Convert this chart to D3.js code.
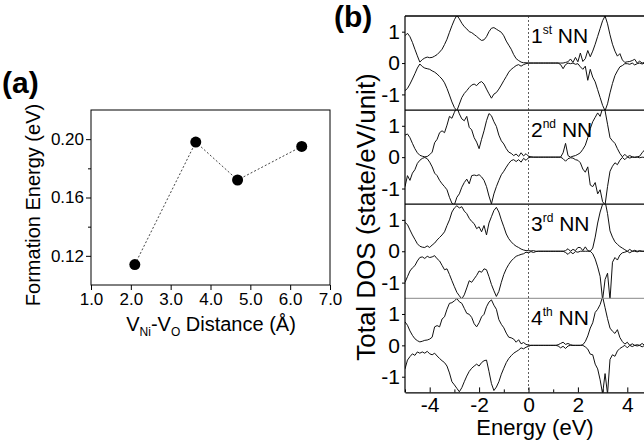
<!DOCTYPE html>
<html lang="en">
<head>
<meta charset="UTF-8">
<title>Formation energy and total DOS</title>
<script src="https://d3js.org/d3.v7.min.js"></script>
<style>
  body { margin: 0; background: #fff; }
  svg { display: block; font-family: "Liberation Sans", Arial, sans-serif; }
</style>
</head>
<body>
<svg width="644" height="440"></svg>
<script>
// ---- panel (a): formation energy vs vacancy distance
var distance = [2.1, 3.63, 4.68, 6.29];
var formationEnergy = [0.114, 0.198, 0.172, 0.195];
var distTicks = [1, 2, 3, 4, 5, 6, 7];
var feTicks = [0.12, 0.16, 0.20];
var feMinorTicks = [0.14, 0.18];

// ---- panel (b): total DOS, spin up (+) and spin down (-)
var energy = [-5, -4.9, -4.8, -4.7, -4.6, -4.5, -4.4, -4.3, -4.2, -4.1,
  -4, -3.9, -3.8, -3.7, -3.6, -3.5, -3.4, -3.3, -3.2, -3.1,
  -3, -2.9, -2.8, -2.7, -2.6, -2.5, -2.4, -2.3, -2.2, -2.1,
  -2, -1.9, -1.8, -1.7, -1.6, -1.5, -1.4, -1.3, -1.2, -1.1,
  -1, -0.9, -0.8, -0.7, -0.6, -0.5, -0.4, -0.3, -0.2, -0.1,
  0, 0.1, 0.2, 0.3, 0.4, 0.5, 0.6, 0.7, 0.8, 0.9,
  1, 1.1, 1.2, 1.3, 1.4, 1.5, 1.6, 1.7, 1.8, 1.9,
  2, 2.1, 2.2, 2.3, 2.4, 2.5, 2.6, 2.7, 2.8, 2.9,
  3, 3.1, 3.2, 3.3, 3.4, 3.5, 3.6, 3.7, 3.8, 3.9,
  4, 4.1, 4.2, 4.3, 4.4, 4.5, 4.6, 4.7, 4.8];

var dos1Up = [0.87, 0.95, 0.84, 0.66, 0.44, 0.23, 0.03, 0.11, 0.16, 0.19,
  0.17, 0.18, 0.22, 0.27, 0.35, 0.44, 0.59, 0.76, 0.98, 1.19,
  1.38, 1.52, 1.41, 1.27, 1.16, 1.09, 1.0, 0.97, 0.91, 0.85,
  0.78, 0.72, 0.74, 0.84, 1.0, 1.11, 1.13, 1.08, 1.03, 0.98,
  0.87, 0.7, 0.57, 0.44, 0.27, 0.14, 0.08, 0.03, 0.01, 0.01,
  0, 0, 0, 0, 0, 0, 0, 0, 0, 0,
  0, 0, 0, 0, 0, 0.02, 0.04, 0.13, 0.02, 0.18,
  0.04, 0.32, 0.05, 0.14, 0.4, 0.2, 0.38, 0.6, 0.85, 1.1,
  1.35, 1.5, 1.25, 0.9, 0.6, 0.38, 0.22, 0.3, 0.1, 0.02,
  0.04, 0.05, 0.08, 0.12, 0, 0.06, 0, 0.02, 0.02];
var dos1Dn = [-0.88, -0.81, -0.67, -0.51, -0.34, -0.16, -0.03, -0.11, -0.16, -0.18,
  -0.2, -0.25, -0.29, -0.35, -0.43, -0.51, -0.63, -0.81, -1.02, -1.24,
  -1.42, -1.52, -1.31, -1.1, -0.97, -0.88, -0.78, -0.7, -0.67, -0.72,
  -0.63, -0.59, -0.67, -0.83, -0.98, -1.12, -0.99, -0.94, -0.83, -0.7,
  -0.56, -0.43, -0.29, -0.2, -0.14, -0.08, -0.05, -0.1, -0.05, -0.02,
  0, 0, 0, 0, 0, 0, 0, 0, 0, 0,
  0, 0, 0, -0.05, -0.18, -0.05, 0, -0.02, 0, -0.04,
  -0.02, -0.12, -0.2, -0.1, -0.55, -0.2, -0.45, -0.6, -0.85, -1.1,
  -1.35, -1.52, -1.3, -0.95, -0.65, -0.4, -0.25, -0.12, -0.08, -0.02,
  -0.02, -0.04, 0, -0.06, -0.02, 0, -0.03, 0, 0];

var dos2Up = [0.7, 0.74, 0.62, 0.44, 0.27, 0.14, 0.06, 0.03, 0.01, 0.02,
  0.08, 0.16, 0.46, 0.57, 0.78, 0.84, 0.78, 1.02, 1.3, 1.24,
  1.43, 1.59, 1.38, 1.22, 1.16, 1.3, 0.95, 0.87, 0.62, 0.48,
  0.27, 0.57, 0.84, 1.16, 1.39, 1.32, 1.13, 0.98, 0.7, 0.52,
  0.42, 0.27, 0.16, 0.12, 0.05, 0.1, 0.02, 0.14, 0.04, 0.11,
  0.03, 0.01, 0, 0, 0, 0, 0, 0, 0, 0,
  0, 0, 0, 0, 0.14, 0.44, 0.05, 0, 0.03, 0.05,
  0.09, 0.14, 0.25, 0.38, 0.62, 0.91, 1.13, 1.27, 1.41, 1.3,
  1.56, 1.48, 1.05, 0.62, 0.52, 0.44, 0.27, 0.12, 0.01, 0.09,
  0.01, 0.05, 0.01, 0, 0.01, 0.03, 0.14, 0.23, 0.25];
var dos2Dn = [-0.94, -0.59, -0.74, -0.51, -0.4, -0.2, -0.1, -0.04, -0.01, -0.05,
  -0.16, -0.31, -0.51, -0.59, -0.74, -0.85, -0.94, -1.04, -1.28, -1.47,
  -1.52, -1.28, -1.17, -0.96, -0.81, -0.7, -0.85, -0.59, -0.57, -0.59,
  -0.56, -0.63, -0.74, -0.94, -1.24, -1.49, -1.17, -0.94, -0.74, -0.56,
  -0.45, -0.32, -0.2, -0.11, -0.08, -0.14, -0.08, -0.16, -0.04, -0.1,
  -0.02, 0, 0, 0, 0, 0, 0, 0, 0, 0,
  0, 0, 0, 0, -0.05, -0.13, -0.05, -0.02, -0.03, -0.08,
  -0.1, -0.18, -0.38, -0.48, -0.31, -0.89, -0.94, -0.81, -1.17, -1.04,
  -1.42, -1.52, -0.94, -0.45, -0.29, -0.18, -0.24, -0.1, -0.01, -0.08,
  0, -0.03, 0, -0.01, 0, -0.02, 0, -0.01, 0];

var dos3Up = [0.92, 0.85, 0.68, 0.52, 0.38, 0.24, 0.16, 0.13, 0.12, 0.17,
  0.12, 0.2, 0.26, 0.36, 0.44, 0.52, 0.62, 0.82, 1.0, 1.25,
  1.38, 1.45, 1.38, 1.42, 1.28, 1.2, 1.05, 0.95, 0.88, 0.72,
  0.78, 0.62, 0.82, 0.52, 0.9, 1.1, 1.3, 1.4, 1.25, 1.0,
  0.78, 0.55, 0.4, 0.3, 0.22, 0.16, 0.12, 0.07, 0.04, 0.02,
  0.02, 0.01, 0.02, 0, 0, 0, 0, 0, 0, 0,
  0, 0, 0, 0, 0, 0.02, 0.08, 0, 0.06, 0.02,
  0.12, 0.12, 0.02, 0.14, 0.02, 0, 0.1, 0.45, 0.9, 1.25,
  1.5, 1.6, 1.2, 0.65, 0.45, 0.3, 0.22, 0.15, 0.1, 0.05,
  0, 0.06, 0, 0.03, 0, 0.02, 0, 0, 0];
var dos3Dn = [-0.99, -0.81, -0.63, -0.53, -0.46, -0.31, -0.2, -0.18, -0.23, -0.16,
  -0.2, -0.18, -0.14, -0.24, -0.31, -0.45, -0.59, -0.56, -0.74, -0.94,
  -1.13, -1.31, -1.42, -1.52, -1.39, -1.17, -0.94, -0.99, -0.88, -0.77,
  -0.63, -0.67, -0.56, -0.59, -0.81, -1.06, -1.26, -1.44, -1.28, -0.99,
  -0.74, -0.56, -0.42, -0.31, -0.23, -0.16, -0.13, -0.1, -0.08, -0.03,
  -0.05, -0.01, -0.04, -0.01, 0, 0, 0, 0, 0, 0,
  0, 0, 0, 0, 0, -0.04, -0.1, -0.02, -0.08, -0.01,
  -0.03, 0, 0, 0, 0, 0, -0.08, -0.25, -0.5, -0.8,
  -1.55, -0.9, -0.7, -1.55, -0.35, -0.2, -0.28, -0.12, -0.05, -0.03,
  0, -0.05, 0, 0, -0.02, 0, 0, 0, 0];

var dos4Up = [0.75, 0.64, 0.46, 0.32, 0.21, 0.15, 0.11, 0.13, 0.16, 0.17,
  0.2, 0.26, 0.59, 0.63, 0.59, 0.84, 0.91, 1.15, 1.34, 1.36,
  1.42, 1.49, 1.39, 1.34, 1.18, 1.02, 0.99, 0.89, 0.69, 0.59,
  0.72, 0.91, 0.99, 1.23, 1.38, 1.45, 1.28, 1.15, 0.82, 0.67,
  0.56, 0.39, 0.26, 0.24, 0.2, 0.1, 0.18, 0.05, 0.09, 0.03,
  0.01, 0, 0, 0, 0, 0, 0, 0, 0, 0,
  0, 0, 0.02, 0.06, 0.1, 0.03, 0.06, 0.02, 0, 0,
  0, 0, 0.02, 0.12, 0.3, 0.55, 0.72, 1.05, 1.15, 1.3,
  1.55, 1.2, 0.85, 0.55, 0.45, 0.38, 0.5, 0.25, 0.12, 0.04,
  0.1, 0, 0.05, 0, 0.02, 0, 0.06, 0, 0.02];
var dos4Dn = [-0.75, -0.47, -0.36, -0.27, -0.32, -0.21, -0.25, -0.21, -0.25, -0.19,
  -0.27, -0.3, -0.25, -0.34, -0.42, -0.49, -0.55, -0.66, -0.88, -1.16,
  -1.26, -1.37, -1.48, -1.35, -1.16, -0.98, -0.83, -0.73, -0.66, -0.6,
  -0.66, -0.55, -0.49, -0.47, -0.83, -1.22, -1.44, -1.33, -1.16, -0.92,
  -0.73, -0.55, -0.42, -0.33, -0.25, -0.2, -0.15, -0.08, -0.11, -0.06,
  -0.03, 0, 0, 0, 0, 0, 0, 0, 0, 0,
  0, 0, -0.02, -0.08, -0.03, -0.1, -0.02, 0, 0, 0,
  0, 0, 0, -0.05, -0.12, -0.28, -0.3, -0.6, -0.75, -1.1,
  -1.55, -0.9, -1.55, -0.45, -0.3, -0.35, -0.18, -0.1, -0.05, 0,
  -0.08, 0, -0.04, 0, -0.02, 0, -0.05, 0, 0];

var panelNums = ["1", "2", "3", "4"];
var panelSups = ["st", "nd", "rd", "th"];
var energyTicks = [-4, -2, 0, 2, 4];
var energyMinorTicks = [-5, -3, -1, 1, 3, 5];
var dosTicks = [-1, 0, 1];

var FONT = '"Liberation Sans", Arial, sans-serif';
var svg = d3.select("svg");

// ================= (a) =================
var xA = d3.scaleLinear().domain([1, 7]).range([91, 330]);
var yA = d3.scaleLinear().domain([0.10, 0.22]).range([285, 110]);

svg.append("rect")
   .attr("x", xA(1)).attr("y", yA(0.22))
   .attr("width", xA(7) - xA(1)).attr("height", yA(0.10) - yA(0.22))
   .attr("fill", "none").attr("stroke", "#000").attr("stroke-width", 1);

svg.append("g")
   .attr("transform", "translate(0," + yA(0.10) + ")")
   .call(d3.axisBottom(xA).tickValues(distTicks).tickFormat(d3.format(".1f"))
         .tickSize(5).tickPadding(3))
   .attr("font-size", 17).attr("font-family", FONT)
   .call(function(g) { g.select(".domain").remove(); });

svg.append("g")
   .attr("transform", "translate(" + xA(1) + ",0)")
   .call(d3.axisLeft(yA).tickValues(feTicks).tickFormat(d3.format(".2f"))
         .tickSize(5).tickPadding(2))
   .attr("font-size", 17).attr("font-family", FONT)
   .call(function(g) { g.select(".domain").remove(); });

svg.append("g")
   .attr("transform", "translate(" + xA(1) + ",0)")
   .call(d3.axisLeft(yA).tickValues(feMinorTicks).tickFormat("").tickSize(3))
   .call(function(g) { g.select(".domain").remove(); });

var feLine = d3.line()
   .x(function(d, i) { return xA(distance[i]); })
   .y(function(d) { return yA(d); });

svg.append("path")
   .datum(formationEnergy)
   .attr("d", feLine)
   .attr("fill", "none")
   .attr("stroke", "#444")
   .attr("stroke-width", 1)
   .attr("stroke-dasharray", "2,2");

svg.selectAll("circle.fe")
   .data(formationEnergy)
   .enter()
   .append("circle")
   .attr("class", "fe")
   .attr("cx", function(d, i) { return xA(distance[i]); })
   .attr("cy", function(d) { return yA(d); })
   .attr("r", 5.5)
   .attr("fill", "#000");

// axis titles (a)
svg.append("text")
   .attr("transform", "translate(39.5," + 205 + ") rotate(-90)")
   .attr("text-anchor", "middle")
   .attr("font-family", FONT).attr("font-size", 20)
   .text("Formation Energy (eV)");

var xtA = svg.append("text")
   .attr("x", 211).attr("y", 331)
   .attr("text-anchor", "middle")
   .attr("font-family", FONT).attr("font-size", 20);
xtA.append("tspan").text("V");
xtA.append("tspan").attr("dy", 5).attr("font-size", 12).text("Ni");
xtA.append("tspan").attr("dy", -5).text("-V");
xtA.append("tspan").attr("dy", 5).attr("font-size", 12).text("O");
xtA.append("tspan").attr("dy", -5).text(" Distance (\u00C5)");

svg.append("text")
   .attr("x", 2).attr("y", 93)
   .attr("font-family", FONT).attr("font-size", 30).attr("font-weight", "bold")
   .text("(a)");

// ================= (b) =================
var xB = d3.scaleLinear().domain([-5, 5]).range([405, 652]);
var panelTop = 16, panelH = 94.1;
var bottomB = panelTop + 4 * panelH;

var dosUp = [dos1Up, dos2Up, dos3Up, dos4Up];
var dosDn = [dos1Dn, dos2Dn, dos3Dn, dos4Dn];

var defs = svg.append("defs");

dosUp.forEach(function(up, k) {
    var top = panelTop + k * panelH;
    var y = d3.scaleLinear().domain([-1.5, 1.5]).range([top + panelH, top]);

    defs.append("clipPath").attr("id", "clip" + k)
        .append("rect")
        .attr("x", xB(-5)).attr("y", top)
        .attr("width", xB(5) - xB(-5)).attr("height", panelH);

    var line = d3.line()
        .x(function(d, i) { return xB(energy[i]); })
        .y(function(d) { return y(d); });

    var g = svg.append("g").attr("clip-path", "url(#clip" + k + ")");
    [up, dosDn[k]].forEach(function(series) {
        g.append("path")
         .datum(series)
         .attr("d", line)
         .attr("fill", "none")
         .attr("stroke", "#111")
         .attr("stroke-width", 1)
         .attr("stroke-linejoin", "round");
    });

    svg.append("g")
       .attr("transform", "translate(" + xB(-5) + ",0)")
       .call(d3.axisLeft(y).tickValues(dosTicks).tickFormat(function(d) { return String(d); })
             .tickSize(3).tickPadding(2))
       .attr("font-size", 21).attr("font-family", FONT)
       .call(function(a) { a.select(".domain").remove(); });

    svg.append("line")
       .attr("x1", xB(-5)).attr("x2", xB(5))
       .attr("y1", top).attr("y2", top)
       .attr("stroke", k === 3 ? "#888" : "#000")
       .attr("stroke-width", k === 3 ? 1 : 1.3);

    var lab = svg.append("text")
       .attr("x", 531).attr("y", top + 27)
       .attr("font-family", FONT).attr("font-size", 21);
    lab.append("tspan").text(panelNums[k]);
    lab.append("tspan").attr("dy", -9).attr("font-size", 12).text(panelSups[k]);
    lab.append("tspan").attr("dy", 9).text(" NN");
});

// Fermi level
svg.append("line")
   .attr("x1", xB(0)).attr("x2", xB(0))
   .attr("y1", panelTop).attr("y2", bottomB)
   .attr("stroke", "#333").attr("stroke-width", 0.8)
   .attr("stroke-dasharray", "2,2");

// frame left
svg.append("line")
   .attr("x1", xB(-5)).attr("x2", xB(-5))
   .attr("y1", panelTop).attr("y2", bottomB)
   .attr("stroke", "#000").attr("stroke-width", 1.2);

// energy axis
svg.append("g")
   .attr("transform", "translate(0," + bottomB + ")")
   .call(d3.axisBottom(xB).tickValues(energyTicks).tickFormat(function(d) { return String(d); })
         .tickSizeInner(-5).tickSizeOuter(0).tickPadding(5))
   .attr("font-size", 21).attr("font-family", FONT)
   .call(function(a) { a.select(".domain").attr("stroke-width", 1.3); });

svg.append("g")
   .attr("transform", "translate(0," + bottomB + ")")
   .call(d3.axisBottom(xB).tickValues(energyMinorTicks).tickFormat("").tickSizeInner(-3).tickSizeOuter(0))
   .call(function(a) { a.select(".domain").remove(); });

svg.append("text")
   .attr("x", 535).attr("y", 435)
   .attr("text-anchor", "middle")
   .attr("font-family", FONT).attr("font-size", 22)
   .text("Energy (eV)");

svg.append("text")
   .attr("transform", "translate(375," + 217 + ") rotate(-90)")
   .attr("text-anchor", "middle")
   .attr("font-family", FONT).attr("font-size", 26)
   .text("Total DOS (state/eV/unit)");

svg.append("text")
   .attr("x", 334).attr("y", 27)
   .attr("font-family", FONT).attr("font-size", 30).attr("font-weight", "bold")
   .text("(b)");
</script>
</body>
</html>
